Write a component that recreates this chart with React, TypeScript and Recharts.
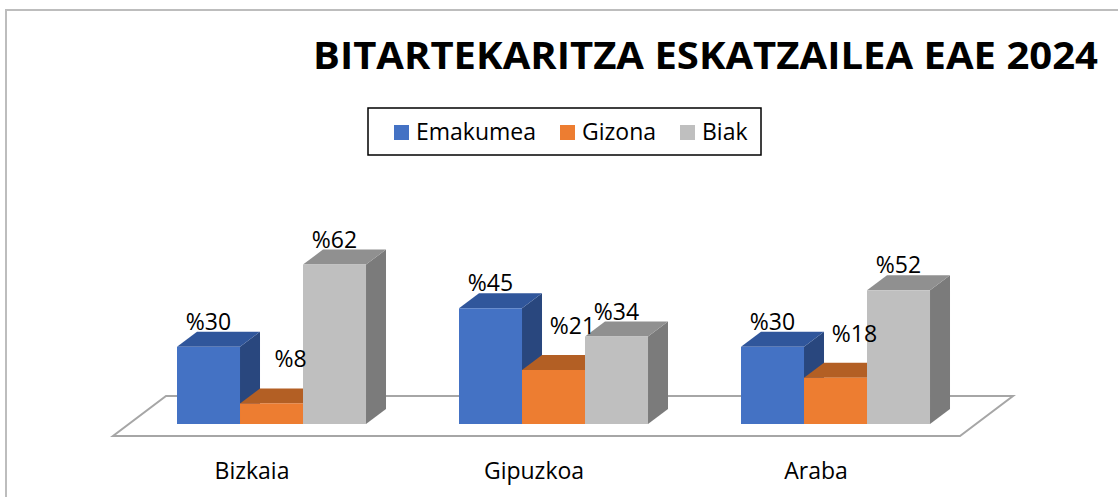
import React from 'react';
import * as R from 'recharts';

const { BarChart, Bar, XAxis, YAxis, LabelList } = R as any;

// ---------- data ----------
const categories = ['Bizkaia', 'Gipuzkoa', 'Araba'];
const emakumea = [30, 45, 30];
const gizona = [8, 21, 18];
const biak = [62, 34, 52];
const seriesNames = ['Emakumea', 'Gizona', 'Biak'];
const chartTitle = 'BITARTEKARITZA ESKATZAILEA EAE 2024';
const yDomain = [0, 70];

const data = categories.map((c, i) => ({
  name: c,
  Emakumea: emakumea[i],
  Gizona: gizona[i],
  Biak: biak[i],
}));

// ---------- styles ----------
const W = 1118;
const H = 497;
const MARGIN = { top: 244, right: 142, bottom: 13, left: 130 };
const XAXIS_H = 60;
const FONT = '"Open Sans", "Noto Sans", sans-serif';
const DX = 20;
const DY = 15;

const faces: Record<string, { front: string; top: string; side: string }> = {
  Emakumea: { front: '#4472C4', top: '#30569B', side: '#29477E' },
  Gizona: { front: '#ED7D31', top: '#B35F24', side: '#A05420' },
  Biak: { front: '#BFBFBF', top: '#909090', side: '#7B7B7B' },
};

// label offsets per series (x shift, baseline shift from bar top)
const labelOffsets: Record<string, { dx: number; dy: number }> = {
  Emakumea: { dx: 0, dy: -17 },
  Gizona: { dx: 19, dy: -36 },
  Biak: { dx: 0, dy: -17 },
};

const make3D = (key: string) => (props: any) => {
  const { x, y, width, height } = props;
  if (width == null || height == null) return null;
  const f = faces[key];
  const w = width;
  const h = height;
  const top = `${x},${y} ${x + DX},${y - DY} ${x + w + DX},${y - DY} ${x + w},${y}`;
  const side = `${x + w},${y} ${x + w + DX},${y - DY} ${x + w + DX},${y + h - DY} ${x + w},${y + h}`;
  return (
    <g>
      <polygon points={side} fill={f.side} />
      <polygon points={top} fill={f.top} />
      <rect x={x} y={y} width={w} height={h} fill={f.front} />
    </g>
  );
};

const makeLabel = (key: string) => (props: any) => {
  const { x, y, width, value } = props;
  const o = labelOffsets[key];
  return (
    <text
      x={x + width / 2 + o.dx}
      y={y + o.dy}
      textAnchor="middle"
      fontFamily={FONT}
      fontSize={23}
      fill="#000"
    >
      {'%' + value}
    </text>
  );
};

const usePA = (R as any).usePlotArea;

function Floor() {
  const pa = usePA ? usePA() : null;
  const x = pa ? pa.x : MARGIN.left;
  const y = pa ? pa.y : MARGIN.top;
  const width = pa ? pa.width : W - MARGIN.left - MARGIN.right;
  const height = pa ? pa.height : H - MARGIN.top - MARGIN.bottom - XAXIS_H;
  const b = y + height;
  const pts = [
    [x - 17, b + 12],
    [x + width - 16, b + 12],
    [x + width + 37, b - 28],
    [x + 36, b - 28],
  ]
    .map((p) => p.join(','))
    .join(' ');
  return <polygon points={pts} fill="#fff" stroke="#A6A6A6" strokeWidth={2} />;
}

function Frame() {
  return (
    <g>
      <rect x={0} y={0} width={W} height={H} fill="#fff" />
      <rect x={6} y={10} width={1140} height={520} fill="none" stroke="#BDBDBD" strokeWidth={2} />
      <text
        x={705.5}
        y={69}
        textAnchor="middle"
        fontFamily={FONT}
        fontWeight={700}
        fontSize={37}
        textLength={785}
        lengthAdjust="spacingAndGlyphs"
        fill="#000"
      >
        {chartTitle}
      </text>
    </g>
  );
}

const legendItemX = [394, 560, 680];

function LegendBox() {
  return (
    <g>
      <rect x={368} y={108} width={393} height={47} fill="#fff" stroke="#000" strokeWidth={1.5} />
      {seriesNames.map((n, i) => (
        <g key={n}>
          <rect x={legendItemX[i]} y={125} width={15} height={15} fill={faces[n].front} />
          <text
            x={legendItemX[i] + 22}
            y={140}
            fontFamily={FONT}
            fontSize={23}
            fill="#000"
          >
            {n}
          </text>
        </g>
      ))}
    </g>
  );
}

const CategoryTick = (p: any) => (
  <text
    x={p.x - 19}
    y={p.y + 55}
    textAnchor="middle"
    fontFamily={FONT}
    fontSize={23}
    fill="#000"
  >
    {p.payload.value}
  </text>
);

export default function App() {
  return (
    <div style={{ position: 'absolute', left: 0, top: 0, width: W, height: H, background: '#fff' }}>
      <BarChart
        width={W}
        height={H}
        data={data}
        margin={MARGIN}
        barGap={0}
        barCategoryGap="16.67%"
      >
        <Frame />
        <LegendBox />
        <Floor />
        <XAxis
          dataKey="name"
          height={XAXIS_H}
          axisLine={false}
          tickLine={false}
          tickSize={0}
          tickMargin={0}
          interval={0}
          tick={CategoryTick}
        />
        <YAxis hide domain={yDomain} />
        {seriesNames.map((n) => (
          <Bar key={n} dataKey={n} isAnimationActive={false} shape={make3D(n)} fill={faces[n].front}>
            <LabelList dataKey={n} content={makeLabel(n)} />
          </Bar>
        ))}
      </BarChart>
    </div>
  );
}
